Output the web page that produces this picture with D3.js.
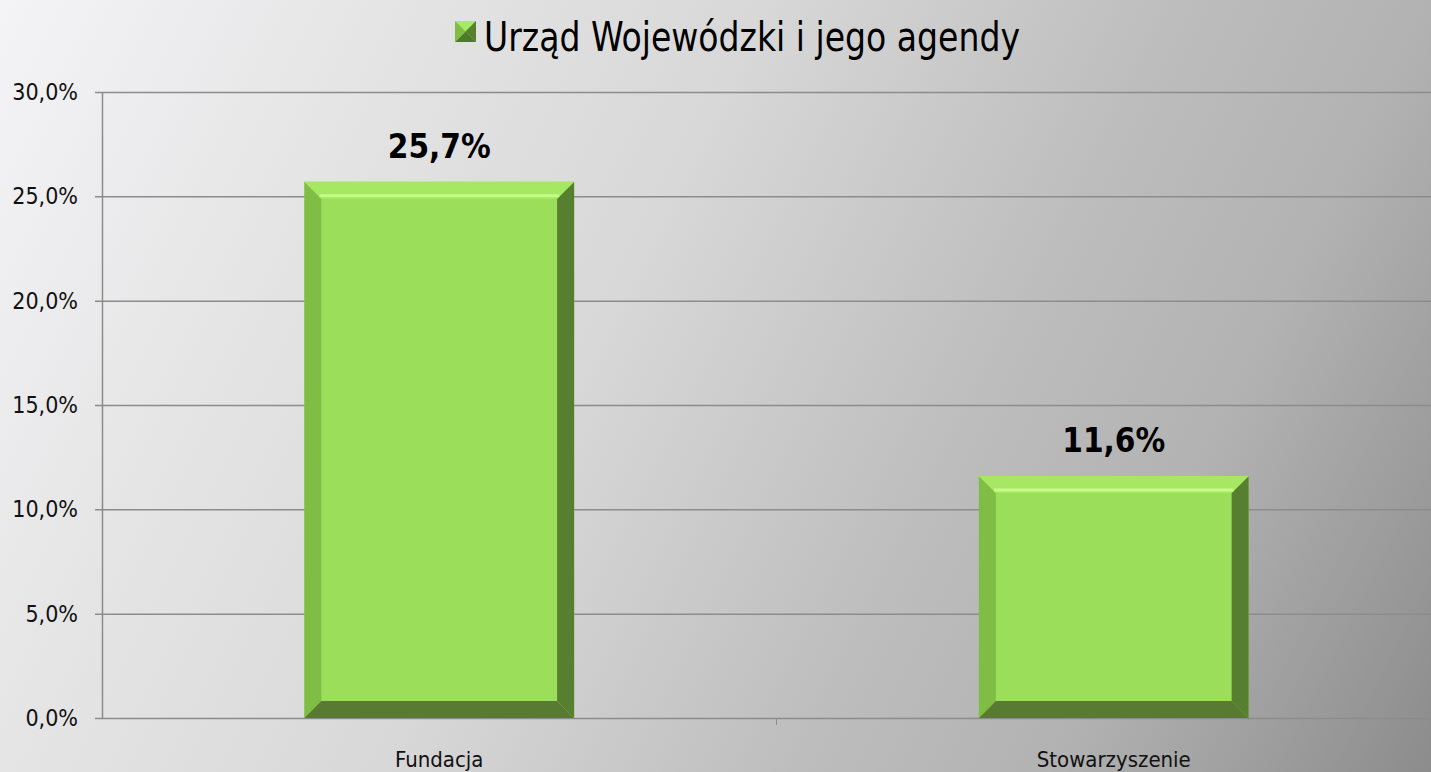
<!DOCTYPE html>
<html>
<head>
<meta charset="utf-8">
<script src="https://cdn.jsdelivr.net/npm/d3@7"></script>
<style>
  html, body { margin: 0; padding: 0; overflow: hidden; }
  svg { display: block; }
</style>
</head>
<body>
<svg id="chart" width="1431" height="772"></svg>
<script>
const categories = ['Fundacja', 'Stowarzyszenie'];
const values = [25.7, 11.6];
const seriesName = 'Urząd Wojewódzki i jego agendy';
const yTicks = [0, 5, 10, 15, 20, 25, 30];

const WIDTH = 1431;
const HEIGHT = 772;
const FONT = '"DejaVu Sans Condensed", "DejaVu Sans", sans-serif';
const BEVEL = 17;

const root = d3.select('#chart');
const defs = root.append('defs');

const bg = defs.append('linearGradient')
  .attr('id', 'bg')
  .attr('gradientUnits', 'userSpaceOnUse')
  .attr('x1', 0).attr('y1', 0)
  .attr('x2', 1454).attr('y2', 727);
bg.append('stop').attr('offset', 0).attr('stop-color', '#f4f4f6');
bg.append('stop').attr('offset', 0.21).attr('stop-color', '#e5e5e6');
bg.append('stop').attr('offset', 0.42).attr('stop-color', '#d8d8d8');
bg.append('stop').attr('offset', 0.65).attr('stop-color', '#bdbdbd');
bg.append('stop').attr('offset', 0.79).attr('stop-color', '#b2b2b2');
bg.append('stop').attr('offset', 1).attr('stop-color', '#8c8c8c');

root.append('rect')
  .attr('width', WIDTH)
  .attr('height', HEIGHT)
  .attr('fill', 'url(#bg)');

const x = d3.scaleBand()
  .domain(categories)
  .range([102, 1451])
  .paddingInner(0.6)
  .paddingOuter(0.3);

const y = d3.scaleLinear()
  .domain([0, 30])
  .range([718, 92]);

// gridlines
root.append('g')
  .selectAll('line')
  .data(yTicks)
  .join('line')
  .attr('x1', 95)
  .attr('x2', WIDTH)
  .attr('y1', (d) => y(d) + 0.5)
  .attr('y2', (d) => y(d) + 0.5)
  .attr('stroke', '#8c8c8c')
  .attr('stroke-width', 1.5);

// y axis line
root.append('line')
  .attr('x1', 102.5).attr('x2', 102.5)
  .attr('y1', y(30)).attr('y2', y(0))
  .attr('stroke', '#8c8c8c')
  .attr('stroke-width', 1.5);

// y labels
root.append('g')
  .selectAll('text')
  .data(yTicks)
  .join('text')
  .attr('x', 78)
  .attr('y', (d) => y(d) + 8)
  .attr('text-anchor', 'end')
  .attr('fill', '#111')
  .attr('font-size', 23)
  .attr('font-family', FONT)
  .text((d) => d.toFixed(1).replace('.', ',') + '%');

// category separator tick
const mid = (x(categories[0]) + x.bandwidth() + x(categories[1])) / 2;
root.append('line')
  .attr('x1', mid).attr('x2', mid)
  .attr('y1', y(0)).attr('y2', y(0) + 7)
  .attr('stroke', '#8c8c8c')
  .attr('stroke-width', 1);

// category labels
root.append('g')
  .selectAll('text')
  .data(categories)
  .join('text')
  .attr('x', (d) => x(d) + x.bandwidth() / 2)
  .attr('y', 767)
  .attr('text-anchor', 'middle')
  .attr('fill', '#111')
  .attr('font-size', 22)
  .attr('font-family', FONT)
  .text((d) => d);

// bevelled bars
const bars = root.append('g')
  .selectAll('g')
  .data(categories.map((c, i) => ({ c, v: values[i] })))
  .join('g');

function facePath(d, side) {
  const x0 = x(d.c);
  const x1 = x0 + x.bandwidth();
  const y0 = y(d.v);
  const y1 = y(0);
  const b = BEVEL;
  if (side === 'top') return `M${x0},${y0}L${x1},${y0}L${x1 - b},${y0 + b}L${x0 + b},${y0 + b}Z`;
  if (side === 'bottom') return `M${x0},${y1}L${x1},${y1}L${x1 - b},${y1 - b}L${x0 + b},${y1 - b}Z`;
  if (side === 'left') return `M${x0},${y0}L${x0 + b},${y0 + b}L${x0 + b},${y1 - b}L${x0},${y1}Z`;
  return `M${x1},${y0}L${x1 - b},${y0 + b}L${x1 - b},${y1 - b}L${x1},${y1}Z`;
}

bars.append('rect')
  .attr('x', (d) => x(d.c))
  .attr('y', (d) => y(d.v))
  .attr('width', x.bandwidth())
  .attr('height', (d) => y(0) - y(d.v))
  .attr('fill', '#9bde59');

bars.append('path').attr('d', (d) => facePath(d, 'left')).attr('fill', '#7fbd45');
bars.append('path').attr('d', (d) => facePath(d, 'right')).attr('fill', '#567f30');
bars.append('path').attr('d', (d) => facePath(d, 'bottom')).attr('fill', '#587a32');
bars.append('path').attr('d', (d) => facePath(d, 'top')).attr('fill', '#a6e863');

// highlight line along the inner top edge
bars.append('line')
  .attr('x1', (d) => x(d.c) + BEVEL - 2)
  .attr('x2', (d) => x(d.c) + x.bandwidth() - BEVEL + 2)
  .attr('y1', (d) => y(d.v) + BEVEL - 3)
  .attr('y2', (d) => y(d.v) + BEVEL - 3)
  .attr('stroke', '#c6fb88')
  .attr('stroke-width', 3);

// data labels
root.append('g')
  .selectAll('text')
  .data(categories.map((c, i) => ({ c, v: values[i] })))
  .join('text')
  .attr('x', (d) => x(d.c) + x.bandwidth() / 2)
  .attr('y', (d) => y(d.v) - 24)
  .attr('text-anchor', 'middle')
  .attr('fill', '#000')
  .attr('font-size', 33)
  .attr('font-weight', 700)
  .attr('font-family', FONT)
  .text((d) => d.v.toFixed(1).replace('.', ',') + '%');

// legend
const lg = root.append('g');
const mk = { x: 455, y: 21, s: 21 };
lg.append('rect').attr('x', mk.x).attr('y', mk.y).attr('width', mk.s).attr('height', mk.s).attr('fill', '#9bde59');
lg.append('path')
  .attr('d', `M${mk.x},${mk.y}L${mk.x + mk.s},${mk.y}L${mk.x + mk.s / 2},${mk.y + mk.s / 2}Z`)
  .attr('fill', '#a8ea66');
lg.append('path')
  .attr('d', `M${mk.x + mk.s},${mk.y}L${mk.x + mk.s},${mk.y + mk.s}L${mk.x + mk.s / 2},${mk.y + mk.s / 2}Z`)
  .attr('fill', '#567f30');
lg.append('path')
  .attr('d', `M${mk.x},${mk.y + mk.s}L${mk.x + mk.s},${mk.y + mk.s}L${mk.x + mk.s / 2},${mk.y + mk.s / 2}Z`)
  .attr('fill', '#4d7a2a');
lg.append('path')
  .attr('d', `M${mk.x},${mk.y}L${mk.x},${mk.y + mk.s}L${mk.x + mk.s / 2},${mk.y + mk.s / 2}Z`)
  .attr('fill', '#7fbd45');

lg.append('text')
  .attr('x', 484)
  .attr('y', 51)
  .attr('fill', '#000')
  .attr('font-size', 40)
  .attr('font-family', FONT)
  .attr('textLength', 536)
  .attr('lengthAdjust', 'spacingAndGlyphs')
  .text(seriesName);
</script>
</body>
</html>
